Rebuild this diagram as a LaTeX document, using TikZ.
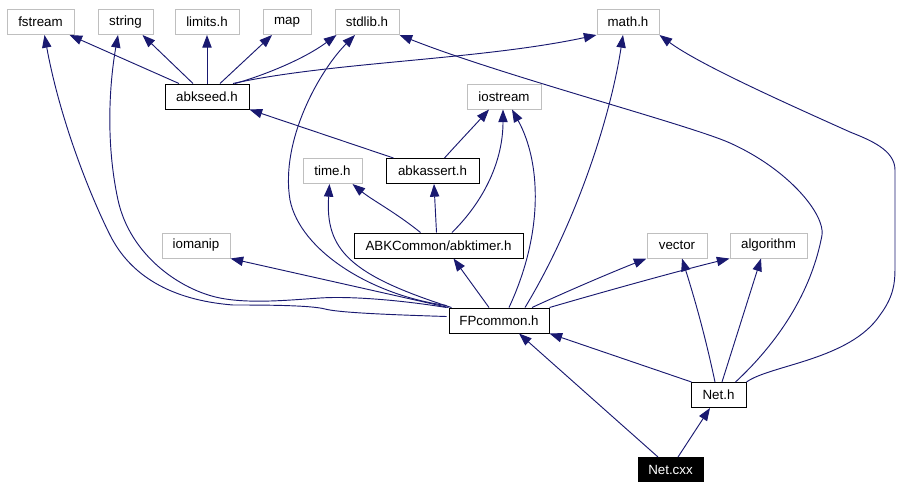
\documentclass[tikz,border=0pt]{standalone}
\usepackage{fontspec}
\setmainfont{Liberation Sans}
\usetikzlibrary{calc,arrows.meta}
\definecolor{edgeblue}{RGB}{25,25,112}
\definecolor{extgray}{RGB}{191,191,191}
\tikzset{
  boxbase/.style={rectangle, inner sep=0pt, minimum height=25*0.75pt, font=\fontsize{10}{12}\selectfont, line width=0.75pt},
  extbox/.style={boxbase, draw=extgray, fill=white},
  intbox/.style={boxbase, draw=black, fill=white},
  rootbox/.style={boxbase, draw=black, fill=black, text=white},
  wpx/.style={minimum width=#1*0.75pt},
  dep/.style={draw=edgeblue, line width=0.7pt, -{Triangle[length=9.5pt,width=7pt]}},
}
\begin{document}
\begin{tikzpicture}[x=0.75pt,y=-0.75pt]
\useasboundingbox (0,0) rectangle (916,490);
% nodes
\node[extbox,wpx=67] (fstream) at (40.5,22) {fstream};
\node[extbox,wpx=55] (string) at (125.5,22) {string};
\node[extbox,wpx=64] (limits) at (207,22) {limits.h};
\node[extbox,wpx=48] (map) at (287,22) {map};
\node[extbox,wpx=64] (stdlib) at (367,22) {stdlib.h};
\node[extbox,wpx=62] (math) at (628,22) {math.h};
\node[intbox,wpx=84] (abkseed) at (207,96.5) {abkseed.h};
\node[extbox,wpx=74] (iostream) at (504,96.5) {iostream};
\node[extbox,wpx=59] (timeh) at (332.5,171) {time.h};
\node[intbox,wpx=93] (abkassert) at (432.5,171) {abkassert.h};
\node[extbox,wpx=68] (iomanip) at (196,245.5) {iomanip};
\node[intbox,wpx=169] (abktimer) at (438.5,245.5) {ABKCommon/abktimer.h};
\node[intbox,wpx=100] (fpc) at (499,320.5) {FPcommon.h};
\node[extbox,wpx=60] (vector) at (677,245.5) {vector};
\node[extbox,wpx=77] (algorithm) at (768.5,245.5) {algorithm};
\node[intbox,wpx=55] (neth) at (718.5,395) {Net.h};
\node[rootbox,wpx=65,minimum height=24*0.75pt] (netcxx) at (670.5,469.5) {Net.cxx};
% abkseed.h
\draw[dep] ($(abkseed.north)+(-28,0)$) -- ($(fstream.south)+(29,0)$);
\draw[dep] ($(abkseed.north)+(-14,0)$) -- ($(string.south)+(17,0)$);
\draw[dep] (abkseed.north) -- (limits.south);
\draw[dep] ($(abkseed.north)+(13,0)$) -- ($(map.south)+(-15,0)$);
\draw[dep] ($(abkseed.north)+(28,0)$) .. controls (255,78) and (300,62) .. ($(stdlib.south west)+(2,0)$);
\draw[dep] ($(abkseed.north)+(26,0)$) .. controls (330,62) and (480,60) .. (math.south west);
% abkassert.h
\draw[dep] ($(abkassert.north)+(-39,0)$) -- (abkseed.south east);
\draw[dep] ($(abkassert.north)+(12,0)$) .. controls (458,143) and (475,125) .. ($(iostream.south)+(-15,0)$);
% abktimer.h
\draw[dep] ($(abktimer.north)+(-18,0)$) .. controls (395,212) and (372,200) .. ($(timeh.south east)+(-10,0)$);
\draw[dep] ($(abktimer.north)+(-2,0)$) -- ($(abkassert.south)+(1.5,0)$);
\draw[dep] ($(abktimer.north)+(13.5,0)$) .. controls (485,200) and (503,160) .. ($(iostream.south)+(-1,0)$);
% FPcommon.h
\draw[dep] ($(fpc.north)+(-10,0)$) -- ($(abktimer.south)+(15,0)$);
\draw[dep] ($(fpc.north)+(10,0)$) .. controls (545,230) and (540,160) .. ($(iostream.south)+(8,0)$);
\draw[dep] ($(fpc.north)+(26,0)$) .. controls (575,225) and (610,120) .. ($(math.south)+(-5,0)$);
\draw[dep] ($(fpc.north)+(33,0)$) .. controls (570,290) and (610,273) .. (vector.south west);
\draw[dep] (fpc.north east) .. controls (620,287) and (690,268) .. (algorithm.south west);
\draw[dep] (fpc.north west) -- (iomanip.south east);
\draw[dep] ($(fpc.north west)+(3,0)$) .. controls (350,275) and (325,250) .. ($(timeh.south)+(-3,0)$);
\draw[dep] ($(fpc.north west)+(-2,-2)$) .. controls (370,295) and (300,250) .. (290,200)
   .. controls (280,140) and (320,70) .. ($(stdlib.south)+(-12,0)$);
\draw[dep] ($(fpc.west)+(-2,-4)$) .. controls (400,315) and (340,313) .. (325,309)
   .. controls (310,305) and (260,305) .. (233,305)
   .. controls (170,300) and (130,275) .. (110,235)
   .. controls (90,195) and (60,120) .. ($(fstream.south)+(4,0)$);
\draw[dep] ($(fpc.north west)+(-2,0)$) .. controls (400,300) and (350,296) .. (320,298)
   .. controls (290,300) and (250,304) .. (220,298)
   .. controls (180,290) and (130,255) .. (118,200)
   .. controls (105,140) and (110,80) .. ($(string.south)+(-7.5,0)$);
% Net.h
\draw[dep] ($(neth.north west)+(1,0)$) -- (fpc.south east);
\draw[dep] ($(neth.north)+(-3.5,0)$) .. controls (705,335) and (695,300) .. ($(vector.south)+(5,0)$);
\draw[dep] ($(neth.north)+(3.5,0)$) -- ($(algorithm.south)+(-7.5,0)$);
\draw[dep] ($(neth.north)+(17,0)$) .. controls (770,350) and (810,300) .. (822,235)
   .. controls (825,215) and (790,170) .. (730,143)
   .. controls (690,125) and (500,75) .. (stdlib.south east);
\draw[dep] (neth.north east) .. controls (770,365) and (850,360) .. (880,315)
   .. controls (895,295) and (895,280) .. (895,265) -- (895,170)
   .. controls (895,150) and (870,140) .. (850,132)
   .. controls (790,105) and (700,65) .. (math.south east);
% Net.cxx
\draw[dep] ($(netcxx.north)+(-12.5,0)$) -- ($(fpc.south)+(20,0)$);
\draw[dep] ($(netcxx.north)+(7.5,0)$) -- ($(neth.south)+(-8.5,0)$);
\end{tikzpicture}
\end{document}
